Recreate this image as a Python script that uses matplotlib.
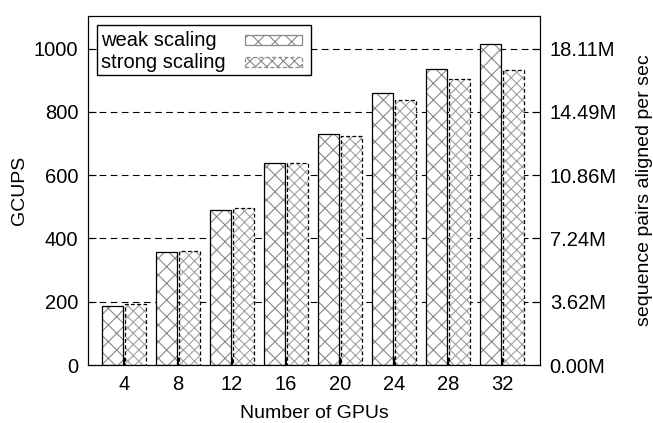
import numpy as np
import matplotlib
matplotlib.use("Agg")
import matplotlib.pyplot as plt
from matplotlib.patches import Rectangle

plt.rcParams['font.family'] = ['Liberation Sans', 'DejaVu Sans']
plt.rcParams['hatch.linewidth'] = 0.8

gpus = ['4', '8', '12', '16', '20', '24', '28', '32']
weak = [186, 357, 490, 638, 730, 859, 935, 1014]
strong = [194, 360, 496, 638, 724, 837, 904, 932]
right_labels = ['0.00M', '3.62M', '7.24M', '10.86M', '14.49M', '18.11M']

W, H = 653, 423
fig = plt.figure(figsize=(W / 100, H / 100), dpi=100)
ax = fig.add_axes([88/W, 58/H, 452/W, 349/H])

def fx(px):
    return px / W

def fy(py):
    return 1 - py / H

x = np.arange(len(gpus))
w = 0.39
off = 0.21
fs = 14

# dashed grid
for yv in [200, 400, 600, 800, 1000]:
    ax.axhline(yv, color='black', lw=0.8, ls=(0, (6, 4)), zorder=0)

# hatch fill (gray), then outlines
ax.bar(x - off, weak, w, color='white', edgecolor='#888888', hatch='xx', lw=0, zorder=2)
ax.bar(x - off, weak, w, fill=False, edgecolor='black', lw=0.9, zorder=3)
ax.bar(x + off, strong, w, color='white', edgecolor='#a0a0a0', hatch='xxx', lw=0, zorder=2)
ax.bar(x + off, strong, w, fill=False, edgecolor='black', lw=0.9, ls=(0, (3, 2)), zorder=3)

ax.set_xlim(-0.667, 7.70)
ax.set_ylim(0, 1103)
ax.set_xticks(x)
ax.set_xticklabels(gpus)
ax.set_yticks([0, 200, 400, 600, 800, 1000])
ax.tick_params(direction='in', length=6, labelsize=fs + 0.5, pad=7)
ax.set_xlabel('Number of GPUs', fontsize=fs, labelpad=8)
ax.set_ylabel('GCUPS', fontsize=fs, labelpad=4)

ax2 = ax.twinx()
ax2.set_ylim(0, 1103)
ax2.set_yticks([0, 200, 400, 600, 800, 1000])
ax2.set_yticklabels(right_labels)
ax2.tick_params(direction='in', length=6, labelsize=fs + 0.5, pad=7)
ax2.set_ylabel('sequence pairs aligned per sec', fontsize=fs, labelpad=14)

# legend box drawn by hand (text left, sample right, as in gnuplot)
fig.patches.append(Rectangle((fx(97), fy(75)), fx(311) - fx(97), fy(25) - fy(75),
                             transform=fig.transFigure, facecolor='white',
                             edgecolor='black', lw=1.0, zorder=5))
labels = ['weak scaling', 'strong scaling']
hatches = ['xx', 'xxx']
styles = ['-', (0, (3, 2))]
rows = [40, 62]
for lab, ht, st, ry in zip(labels, hatches, styles, rows):
    fig.text(fx(101), fy(ry), lab, fontsize=fs + 0.5, va='center', ha='left', zorder=6)
    fig.patches.append(Rectangle((fx(245), fy(ry + 5)), fx(302) - fx(245), fy(ry - 5) - fy(ry + 5),
                                 transform=fig.transFigure, facecolor='white',
                                 edgecolor='#888888', hatch=ht, lw=0.9, ls=st, zorder=6))

fig.savefig('out.png', dpi=100)
